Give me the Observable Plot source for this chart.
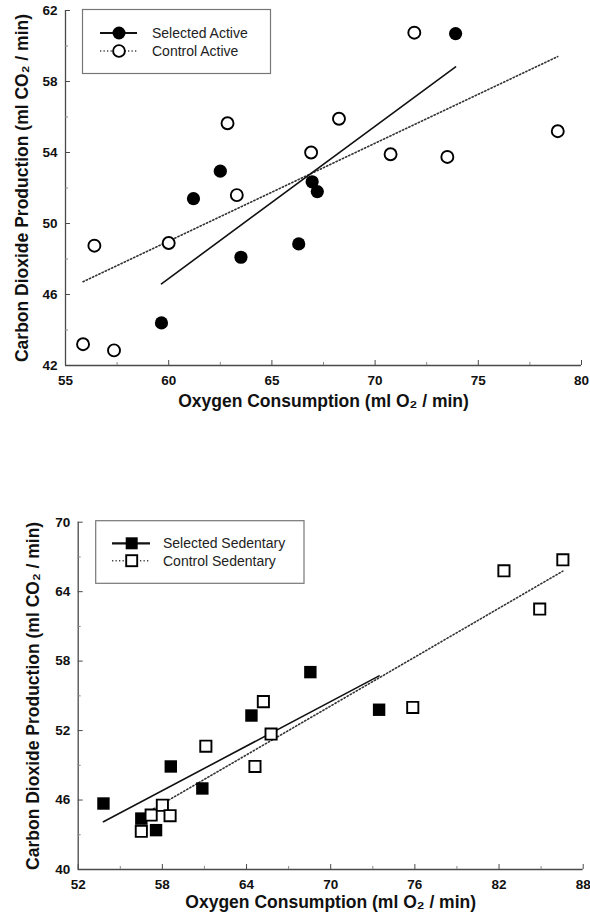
<!DOCTYPE html>
<html><head><meta charset="utf-8">
<script src="https://cdn.jsdelivr.net/npm/d3@7"></script>
<script src="https://cdn.jsdelivr.net/npm/@observablehq/plot@0.6"></script>
<style>
body{margin:0;background:#fff}
#chart svg{display:block}
</style>
</head><body><div id="chart"></div>
<script>
// ---------- Top panel: Active ----------
const selectedActiveO2  = [73.9, 62.5, 61.2, 59.65, 63.5, 66.3, 66.95, 67.2];
const selectedActiveCO2 = [60.7, 52.95, 51.4, 44.4, 48.1, 48.85, 52.35, 51.8];
const controlActiveO2   = [55.85, 57.35, 56.4, 60.0, 62.85, 63.3, 66.9, 68.25, 70.75, 71.9, 73.5, 78.85];
const controlActiveCO2  = [43.2, 42.85, 48.75, 48.9, 55.65, 51.6, 54.0, 55.9, 53.9, 60.75, 53.75, 55.2];
const activeXTicks = [55, 60, 65, 70, 75, 80];
const activeXMinor = [57.5, 62.5, 67.5, 72.5, 77.5];
const activeYTicks = [42, 46, 50, 54, 58, 62];
const activeYMinor = [44, 48, 52, 56, 60];
const activeLegend = ["Selected Active", "Control Active"];

// ---------- Bottom panel: Sedentary ----------
const selectedSedO2  = [53.8, 56.5, 57.55, 58.6, 60.85, 64.35, 68.55, 73.45];
const selectedSedCO2 = [45.7, 44.4, 43.4, 48.9, 47.0, 53.3, 57.05, 53.8];
const controlSedO2   = [56.5, 57.2, 58.0, 58.55, 61.1, 64.6, 65.2, 65.75, 75.85, 82.35, 84.9, 86.55];
const controlSedCO2  = [43.3, 44.7, 45.55, 44.65, 50.65, 48.9, 54.5, 51.7, 54.0, 65.8, 62.5, 66.75];
const sedXTicks = [52, 58, 64, 70, 76, 82, 88];
const sedXMinor = [55, 61, 67, 73, 79, 85];
const sedYTicks = [40, 46, 52, 58, 64, 70];
const sedYMinor = [43, 49, 55, 61, 67];
const sedLegend = ["Selected Sedentary", "Control Sedentary"];

const xTitle = "Oxygen Consumption (ml O\u2082 / min)";
const yTitle = "Carbon Dioxide Production (ml CO\u2082 / min)";

const FONT = "'Liberation Sans', Arial, Helvetica, sans-serif";
const rows = (xs, ys) => xs.map((x, i) => ({x, y: ys[i]}));

function panel({sel, ctl, xDomain, yDomain, xTicks, xMinor, yTicks, yMinor, symbol, rFill, rOpen,
                height, mTop, mBottom, mLeft, mRight, xdy, ydx}) {
  const width = 590;
  const innerH = height - mTop - mBottom;
  const innerW = width - mLeft - mRight;
  const axisColor = "#4a4a4a";
  return Plot.plot({
    width, height,
    marginTop: mTop, marginBottom: mBottom, marginLeft: mLeft, marginRight: mRight,
    style: {fontFamily: FONT, background: "white", overflow: "visible"},
    x: {domain: xDomain},
    y: {domain: yDomain},
    marks: [
      // axis lines
      Plot.ruleX([xDomain[0]], {stroke: axisColor, strokeWidth: 1.3}),
      Plot.ruleY([yDomain[0]], {stroke: axisColor, strokeWidth: 1.3}),
      // inward ticks
      Plot.tickX(xTicks, {x: d => d, stroke: axisColor, insetTop: innerH - 5}),
      Plot.tickX(xMinor, {x: d => d, stroke: "#888", insetTop: innerH - 3}),
      Plot.tickY(yTicks, {y: d => d, stroke: axisColor, insetRight: innerW - 5}),
      Plot.tickY(yMinor, {y: d => d, stroke: "#888", insetRight: innerW - 3}),
      // tick labels
      Plot.axisX(xTicks, {tickSize: 0, tickPadding: 10, label: null, fontSize: 13.5, fontWeight: "bold", fill: "#111"}),
      Plot.axisY(yTicks, {tickSize: 0, tickPadding: 8, label: null, fontSize: 13.5, fontWeight: "bold", fill: "#111"}),
      // titles
      Plot.text([xTitle], {text: d => d, frameAnchor: "bottom", dy: xdy, textAnchor: "middle", fontSize: 17.5, fontWeight: "bold", fill: "#111"}),
      Plot.text([yTitle], {text: d => d, frameAnchor: "left", dx: ydx, rotate: -90, textAnchor: "middle", fontSize: 17.5, fontWeight: "bold", fill: "#111"}),
      // regression lines
      Plot.linearRegressionY(rows(...ctl), {x: "x", y: "y", ci: 0, stroke: "#333", strokeWidth: 1.6, strokeDasharray: "1.3,2.2"}),
      Plot.linearRegressionY(rows(...sel), {x: "x", y: "y", ci: 0, stroke: "#111", strokeWidth: 1.6}),
      // points
      Plot.dot(rows(...sel), {x: "x", y: "y", symbol, r: rFill, fill: "black", stroke: "none"}),
      Plot.dot(rows(...ctl), {x: "x", y: "y", symbol, r: rOpen, fill: "white", stroke: "black", strokeWidth: 1.9})
    ]
  });
}

function addLegend(svg, {x0, y0, w, h, rowY, lineX1, lineX2, markX, textX, labels, square}) {
  const g = d3.select(svg).append("g").attr("font-family", FONT).attr("text-anchor", "start");
  g.append("rect").attr("x", x0).attr("y", y0).attr("width", w).attr("height", h)
    .attr("fill", "white").attr("stroke", "#777").attr("stroke-width", 1.2);
  labels.forEach((lab, i) => {
    const y = rowY[i];
    const ln = g.append("line").attr("x1", lineX1).attr("x2", lineX2).attr("y1", y).attr("y2", y);
    if (i === 0) ln.attr("stroke", "#111").attr("stroke-width", 2.2);
    else ln.attr("stroke", "#444").attr("stroke-width", 1.6).attr("stroke-dasharray", "1.3,2.2");
    if (square) {
      const s = i === 0 ? 12 : 11;
      g.append("rect").attr("x", markX - s / 2).attr("y", y - s / 2).attr("width", s).attr("height", s)
        .attr("fill", i === 0 ? "black" : "white").attr("stroke", i === 0 ? "none" : "black").attr("stroke-width", 1.9);
    } else {
      g.append("circle").attr("cx", markX).attr("cy", y).attr("r", i === 0 ? 6.5 : 5.9)
        .attr("fill", i === 0 ? "black" : "white").attr("stroke", i === 0 ? "none" : "black").attr("stroke-width", 1.9);
    }
    g.append("text").attr("x", textX).attr("y", y).attr("dy", "0.35em").attr("font-size", 14)
      .attr("text-anchor", "start").attr("fill", "#222").text(lab);
  });
}

const topSvg = panel({
  sel: [selectedActiveO2, selectedActiveCO2], ctl: [controlActiveO2, controlActiveCO2],
  xDomain: [55, 80], yDomain: [42, 62], xTicks: activeXTicks, xMinor: activeXMinor,
  yTicks: activeYTicks, yMinor: activeYMinor, symbol: "circle", rFill: 6.6, rOpen: 6.0,
  height: 430, mTop: 10, mBottom: 65, mLeft: 65, mRight: 9, xdy: 41, ydx: -43
});
addLegend(topSvg, {x0: 82.5, y0: 9.5, w: 188, h: 64, rowY: [33, 51], lineX1: 100, lineX2: 137,
  markX: 119, textX: 152, labels: activeLegend, square: false});

const botSvg = panel({
  sel: [selectedSedO2, selectedSedCO2], ctl: [controlSedO2, controlSedCO2],
  xDomain: [52, 88], yDomain: [40, 70], xTicks: sedXTicks, xMinor: sedXMinor,
  yTicks: sedYTicks, yMinor: sedYMinor, symbol: "square", rFill: 7.0, rOpen: 6.3,
  height: 491, mTop: 91.7, mBottom: 52, mLeft: 77.7, mRight: 7.3, xdy: 38.5, ydx: -44.7
});
addLegend(botSvg, {x0: 95.7, y0: 90.7, w: 208.3, h: 62.6, rowY: [113.3, 130.7], lineX1: 112, lineX2: 150,
  markX: 131.7, textX: 163, labels: sedLegend, square: true});

document.getElementById("chart").append(topSvg, botSvg);
</script>
</body></html>
